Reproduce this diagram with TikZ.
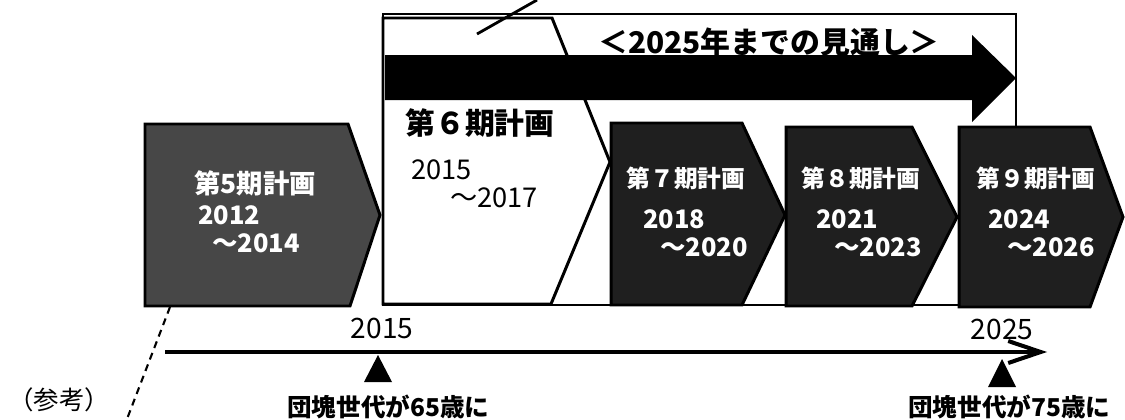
\documentclass[tikz,border=0pt]{standalone}
\usepackage{fontspec}
\newfontfamily\jp{Noto Sans CJK JP}
\usetikzlibrary{arrows.meta}

\tikzset{
    plan/.style = {draw = black, line width = 1.7pt, fill = black!88},
    oldplan/.style = {draw = black, line width = 1.7pt, fill = black!72},
    plantext/.style = {font = {\jp\bfseries\fontsize{13.5}{16}\selectfont}, white, inner sep = 0pt},
    yeartext/.style = {font = {\jp\bfseries\fontsize{14.5}{17}\selectfont}, white, inner sep = 0pt, anchor = west},
    marktext/.style = {font = {\jp\bfseries\fontsize{14}{16}\selectfont}, black, inner sep = 0pt, anchor = west},
    ticktext/.style = {font = {\jp\fontsize{16}{18}\selectfont}, black, inner sep = 0pt}
}

\begin{document}
\begin{tikzpicture}[x = 0.02cm, y = -0.02cm]
    \useasboundingbox (0, 0) rectangle (1125, 419);

    % frame of the outlook
    \draw[line width = 1.1pt, fill = white] (383, 14) rectangle (1016, 305);

    % 6th plan (white)
    \draw[line width = 1.7pt, fill = white] (383, 18) -- (552, 18) -- (610, 162) -- (551, 304) -- (383, 304) -- cycle;
    \node[font = {\jp\bfseries\fontsize{17}{20}\selectfont}, black, inner sep = 0pt, anchor = west] (t6) at (405, 123) {第６期計画};
    \node[font = {\jp\fontsize{15.5}{18}\selectfont}, black, inner sep = 0pt, anchor = west] (y6a) at (411, 170) {2015};
    \node[font = {\jp\fontsize{15.5}{18}\selectfont}, black, inner sep = 0pt, anchor = west] (y6b) at (450, 198) {～2017};

    % big arrow
    \fill[black] (385, 55) -- (972, 55) -- (972, 35) -- (1016, 78) -- (972, 122) -- (972, 100) -- (385, 100) -- cycle;
    \node[font = {\jp\bfseries\fontsize{17}{20}\selectfont}, black, inner sep = 0pt] (outlook) at (769, 42) {＜2025年までの見通し＞};

    % callout line
    \coordinate (callA) at (477, 34);
    \coordinate (callB) at (537, 0);
    \draw[line width = 1.6pt] (callA) -- (callB);

    % 5th plan
    \draw[oldplan] (145, 124) -- (348, 124) -- (380, 215) -- (350, 306) -- (145, 306) -- cycle;
    \node[plantext, font = {\jp\bfseries\fontsize{15}{18}\selectfont}] (t5) at (255, 183) {第5期計画};
    \node[yeartext] (y5a) at (198, 215) {2012};
    \node[yeartext] (y5b) at (212, 243) {～2014};

    % 7th to 9th plans
    \draw[plan] (611, 123) -- (742, 123) -- (785, 215) -- (742, 305) -- (611, 305) -- cycle;
    \node[plantext] (t7) at (686, 178) {第７期計画};
    \node[yeartext] (y7a) at (643, 219) {2018};
    \node[yeartext] (y7b) at (660, 247) {～2020};

    \draw[plan] (786, 127) -- (912, 127) -- (957, 217) -- (912, 306) -- (786, 306) -- cycle;
    \node[plantext] (t8) at (861, 178) {第８期計画};
    \node[yeartext] (y8a) at (816, 219) {2021};
    \node[yeartext] (y8b) at (834, 247) {～2023};

    \draw[plan] (959, 127) -- (1090, 127) -- (1123, 217) -- (1090, 307) -- (959, 307) -- cycle;
    \node[plantext] (t9) at (1036, 178) {第９期計画};
    \node[yeartext] (y9a) at (988, 219) {2024};
    \node[yeartext] (y9b) at (1007, 247) {～2026};

    % time line
    \coordinate (lineStart) at (165, 352);
    \coordinate (lineEnd) at (1047, 352);
    \draw[line width = 2.3pt, -{Straight Barb[length = 6.5mm, width = 4.4mm]}] (lineStart) -- (lineEnd);
    \node[ticktext] (tick15) at (382, 328) {2015};
    \node[ticktext] (tick25) at (1002, 329) {2025};

    \fill[black] (378, 355) -- (392, 382) -- (364, 382) -- cycle;
    \fill[black] (1002, 359) -- (1016, 387) -- (988, 387) -- cycle;
    \node[marktext] (age65) at (287, 407) {団塊世代が65歳に};
    \node[marktext] (age75) at (908, 407) {団塊世代が75歳に};

    % reference
    \node[font = {\jp\fontsize{14.5}{17}\selectfont}, black, inner sep = 0pt, anchor = west] (ref) at (8, 400) {（参考）};
    \coordinate (refA) at (170, 307);
    \coordinate (refB) at (127, 419);
    \draw[line width = 1.2pt, dash pattern = on 4pt off 3pt] (refA) -- (refB);
\end{tikzpicture}
\end{document}
